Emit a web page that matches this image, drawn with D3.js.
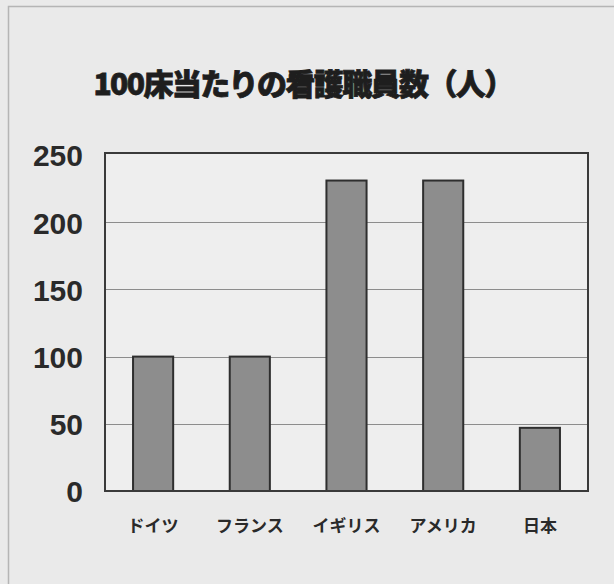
<!DOCTYPE html>
<html><head><meta charset="utf-8">
<script src="https://cdn.jsdelivr.net/npm/d3@7"></script>
<style>html,body{margin:0;padding:0;background:#e9e9e9;}svg{display:block;}</style>
</head><body>
<script>
const categories = ["ドイツ", "フランス", "イギリス", "アメリカ", "日本"];
const values = [100, 100, 231, 231, 47];
const yTicks = [0, 50, 100, 150, 200, 250];
const title = "100床当たりの看護職員数（人）";

(function(){
const W = 614, H = 584;
const svg = d3.select("body").append("svg").attr("width", W).attr("height", H);
svg.append("rect").attr("width", W).attr("height", H).attr("fill", "#eaeaea");
svg.append("path").attr("d", `M8.5,${H} L8.5,6.5 L${W},6.5`).attr("fill", "none").attr("stroke", "#b5b5b5").attr("stroke-width", 1.5);

const pl = 105, pr = 588, pt = 155, pb = 491;
const x = d3.scaleBand().domain(categories).range([pl, pr]).paddingInner(0.585).paddingOuter(0.29);
const y = d3.scaleLinear().domain([0, 250]).range([pb, pt]);

svg.append("rect").attr("x", pl).attr("y", pt - 2).attr("width", pr - pl).attr("height", pb - pt + 2)
  .attr("fill", "#eeeeee");

svg.append("g").selectAll("line").data(yTicks.filter(d => d > 0 && d < 250)).join("line")
  .attr("x1", pl).attr("x2", pr).attr("y1", d => Math.round(y(d)) + 0.5).attr("y2", d => Math.round(y(d)) + 0.5)
  .attr("stroke", "#8c8c8c").attr("stroke-width", 1);

svg.append("g").selectAll("rect").data(values).join("rect")
  .attr("x", (d, i) => x(categories[i])).attr("width", x.bandwidth())
  .attr("y", d => y(d)).attr("height", d => pb - y(d))
  .attr("fill", "#8d8d8d").attr("stroke", "#2e2e2e").attr("stroke-width", 2);

svg.append("rect").attr("x", pl).attr("y", pt - 2).attr("width", pr - pl).attr("height", pb - pt + 2)
  .attr("fill", "none").attr("stroke", "#3a3a3a").attr("stroke-width", 2);

const yAxis = d3.axisLeft(y).tickValues(yTicks).tickSize(0).tickPadding(0);
const ga = svg.append("g").attr("transform", `translate(${pl - 22},0)`).call(yAxis);
ga.select(".domain").remove();
ga.selectAll("text").attr("font-family", "'Liberation Sans', Arial, sans-serif").attr("font-weight", "bold")
  .attr("font-size", 30).attr("fill", "#2a2a2a").attr("dy", "0.36em").attr("x", 0);

const xAxis = d3.axisBottom(x).tickSize(0).tickPadding(0);
const gx = svg.append("g").attr("transform", `translate(0,${pb + 29})`).call(xAxis);
gx.select(".domain").remove();
gx.selectAll("text").attr("font-family", "'Noto Sans CJK JP', sans-serif").attr("font-weight", "bold")
  .attr("font-size", 17).attr("fill", "#2a2a2a").attr("dy", "0.7em");

svg.append("text").attr("x", 303).attr("y", 95).attr("text-anchor", "middle")
  .attr("font-family", "'Noto Sans CJK JP', sans-serif").attr("font-weight", "900")
  .attr("font-size", 30).attr("fill", "#1e1e1e").attr("letter-spacing", -1.6)
  .attr("stroke", "#1e1e1e").attr("stroke-width", 0.8).text(title);
})();
</script>
</body></html>
